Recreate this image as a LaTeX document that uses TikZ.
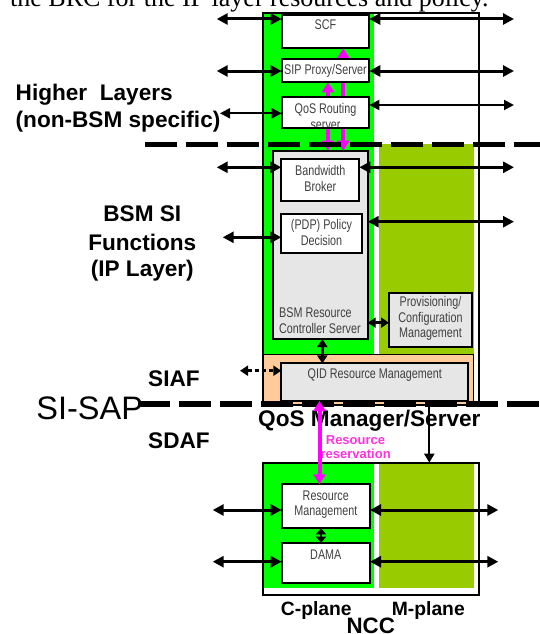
\documentclass[tikz,border=0pt]{standalone}
\usepackage{fontspec}
\setmainfont{Liberation Sans}
\newfontfamily\serifx{Liberation Serif}
\newfontfamily\narrowsans[FakeStretch=0.77]{Liberation Sans}
\usetikzlibrary{arrows.meta}
\definecolor{cgreen}{HTML}{00FF00}
\definecolor{colive}{HTML}{99CC00}
\definecolor{cgray}{HTML}{E6E6E6}
\definecolor{cpeach}{HTML}{FFCC99}
\definecolor{cmag}{HTML}{FF00FF}
\definecolor{cmagtxt}{HTML}{FF33DD}
\definecolor{ctxt}{HTML}{404040}
\tikzset{
  outerframe/.style={draw=black, line width=1.8pt, fill=white, inner sep=0pt, outer sep=0pt, anchor=north west},
  fillarea/.style={inner sep=0pt, outer sep=0pt, anchor=north west},
  wbox/.style={draw=black, line width=2pt, fill=white, inner sep=0pt, outer sep=0pt, anchor=north west},
  gbox/.style={wbox, fill=cgray},
  btxt/.style={font=\narrowsans\fontsize{14}{15.6}\selectfont, text=ctxt, inner sep=0pt, align=center},
  lbl/.style={font=\fontsize{22.6}{27}\selectfont\bfseries, inner sep=0pt, anchor=base west},
  lblc/.style={font=\fontsize{22.6}{27}\selectfont\bfseries, inner sep=0pt, anchor=base},
  bigarr/.style={line width=3pt, {Triangle[length=11pt,width=11pt]}-{Triangle[length=11pt,width=11pt]}},
  thinarr/.style={line width=2pt, {Triangle[length=10pt,width=10pt]}-{Triangle[length=10pt,width=10pt]}},
  smallarr/.style={line width=2.5pt, {Triangle[length=8pt,width=10pt]}-{Triangle[length=8pt,width=10pt]}},
  dasharr/.style={line width=2.5pt, dash pattern=on 4pt off 3pt, {Triangle[length=8pt,width=10pt]}-{Triangle[length=8pt,width=10pt]}},
  downarr/.style={line width=2pt, -{Triangle[length=9pt,width=10pt]}},
  magarr/.style={draw=cmag, line width=4pt, {Triangle[length=10pt,width=12pt]}-{Triangle[length=10pt,width=12pt]}},
  sepline/.style={line width=5.5pt, dash pattern=on 32pt off 9pt},
}
\begin{document}
\begin{tikzpicture}[x=1pt,y=-1pt]
\useasboundingbox (0,0) rectangle (540,634);
% clipped caption line at the top
\node[font=\serifx\fontsize{26}{30}\selectfont, inner sep=0pt, anchor=base west] (caption) at (10,7) {the BRC for the IP layer resources and policy.};

% ---------- upper block ----------
\node[outerframe, minimum width=216pt, minimum height=392.3pt] (ftop) at (263.3,12.7) {};
\node[fillarea, fill=cgreen, minimum width=109.4pt, minimum height=340.8pt] (gtop) at (264.3,13.7) {};
\node[fillarea, fill=colive, minimum width=94.7pt, minimum height=210.5pt] (otop) at (379.3,144) {};
\node[wbox, fill=cpeach, line width=1.8pt, minimum width=210.8pt, minimum height=50.5pt] (peach) at (262.7,354.5) {};

\node[gbox, minimum width=94.4pt, minimum height=188.3pt] (brc) at (273.3,150.7) {};
\node[wbox, minimum width=78pt, minimum height=41.7pt] (bw) at (281.3,159) {};
\node[wbox, minimum width=80.4pt, minimum height=38.4pt] (pdp) at (281.3,214.3) {};
\node[gbox, minimum width=83pt, minimum height=54pt] (prov) at (389,292.7) {};
\node[gbox, minimum width=187pt, minimum height=37.6pt] (qid) at (281.3,363.4) {};

% magenta arrows (behind SIP / QoS boxes)
\coordinate (mx1) at (328,0);
\coordinate (mx2) at (343.3,0);
\node[wbox, minimum width=87.6pt, minimum height=33.6pt] (scf) at (281.7,14.7) {};
\draw[magarr] (scf.south -| mx2) -- (brc.north -| mx2);
\node[wbox, minimum width=87.6pt, minimum height=23.3pt] (sip) at (281.7,59) {};
\draw[magarr] (sip.south -| mx1) -- (brc.north -| mx1);
\node[wbox, minimum width=87.6pt, minimum height=31.6pt] (qos) at (281.7,96.7) {};

% box texts
\node[btxt] (tscf) at (325.5,25) {SCF};
\node[btxt] (tsip) at (325.5,70.7) {SIP Proxy/Server};
\node[btxt] (tqos) at (325.5,116.2) {QoS Routing\\server};
\draw[line width=2pt] (qos.south west) -- (qos.south east);
\node[btxt] (tbw) at (320.3,178.3) {Bandwidth\\Broker};
\node[btxt] (tpdp) at (321.5,232.5) {(PDP) Policy\\Decision};
\node[btxt, align=left, anchor=west] (tbrc) at (279,320.7) {BSM Resource\\Controller Server};
\node[btxt] (tprov) at (430.5,318.5) {Provisioning/\\Configuration\\Management};
\node[btxt] (tqid) at (374.8,375.5) {QID Resource Management};

% black arrows, upper block
\coordinate (scfL) at (216.7,19);
\coordinate (scfR) at (514,19);
\coordinate (sipL) at (216.7,71);
\coordinate (sipR) at (514,71);
\coordinate (qosL) at (220,113.3);
\coordinate (qosR) at (514,105);
\coordinate (bwL) at (216.7,167.3);
\coordinate (bwR) at (514,167.3);
\coordinate (pdpL) at (222.7,237.3);
\coordinate (pdpR) at (514,221.7);
\coordinate (provY) at (0,322.7);
\coordinate (vx1) at (322.3,0);
\coordinate (siafL) at (240,370.7);
\draw[bigarr] (scfL) -- (scfL -| scf.west);
\draw[bigarr] (scfR -| scf.east) -- (scfR);
\draw[bigarr] (sipL) -- (sipL -| sip.west);
\draw[bigarr] (sipR -| sip.east) -- (sipR);
\draw[thinarr] (qosL) -- (qosL -| qos.west);
\draw[thinarr] (qosR -| qos.east) -- (qosR);
\draw[bigarr] (bwL) -- (bwL -| bw.west);
\draw[bigarr] (bwR -| bw.east) -- (bwR);
\draw[bigarr] (pdpL) -- (pdpL -| pdp.west);
\draw[bigarr] (pdpR -| brc.east) -- (pdpR);
\draw[smallarr] (provY -| brc.east) -- (provY -| prov.west);
\draw[smallarr] (brc.south -| vx1) -- (qid.north -| vx1);
\draw[dasharr] (siafL) -- (siafL -| qid.west);

% ---------- lower block ----------
\node[outerframe, line width=2pt, minimum width=216pt, minimum height=132pt] (fbot) at (263.3,462.7) {};
\node[fillarea, fill=cgreen, minimum width=109.7pt, minimum height=124.6pt] (gbot) at (264.3,463.7) {};
\node[fillarea, fill=colive, minimum width=94.7pt, minimum height=124.6pt] (obot) at (379.3,463.7) {};
\node[wbox, minimum width=88.3pt, minimum height=44pt] (rm) at (281.7,484.3) {};
\node[wbox, minimum width=88.3pt, minimum height=40pt] (dama) at (281.7,542.7) {};
\node[btxt] (trm) at (325.8,504.5) {Resource\\Management};
\node[btxt] (tdama) at (325.8,554.3) {DAMA};
\coordinate (rmL) at (212.7,510);
\coordinate (rmR) at (498.3,510);
\coordinate (daL) at (212.7,561.7);
\coordinate (daR) at (498.3,561.7);
\coordinate (vx2) at (321,0);
\draw[bigarr] (rmL) -- (rmL -| rm.west);
\draw[bigarr] (rmR -| rm.east) -- (rmR);
\draw[bigarr] (daL) -- (daL -| dama.west);
\draw[bigarr] (daR -| dama.east) -- (daR);
\draw[line width=2.5pt, {Triangle[length=6pt,width=10pt]}-{Triangle[length=6pt,width=10pt]}] (rm.south -| vx2) -- (dama.north -| vx2);

% ---------- separator lines ----------
\coordinate (d1a) at (145,144.5);
\coordinate (d1b) at (545,144.5);
\coordinate (d2a) at (138,404);
\coordinate (d2b) at (545,404);
\draw[sepline] (d1a) -- (d1b);
\draw[sepline] (d2a) -- (d2b);

% ---------- labels ----------
\node[lbl] (lh1) at (15.5,100) {Higher~~Layers};
\node[lbl] (lh2) at (15.5,127.5) {(non-BSM specific)};
\node[lblc] (lb1) at (142.3,221.7) {BSM SI};
\node[lblc] (lb2) at (142.3,250) {Functions};
\node[lblc] (lb3) at (142.3,276.7) {(IP Layer)};
\node[lbl] (lsiaf) at (148,386.5) {SIAF};
\node[inner sep=0pt, anchor=base west, font=\fontsize{32.5}{36}\selectfont] (lsisap) at (36.2,419) {SI-SAP};
\node[lbl] (lsdaf) at (148,448.5) {SDAF};
\node[lbl] (lqosm) at (258,426) {QoS Manager/Server};
\node[inner sep=0pt, anchor=base, text=cmagtxt, font=\fontsize{13}{14}\selectfont\bfseries] (lres1) at (355.5,444.3) {Resource};
\node[inner sep=0pt, anchor=base, text=cmagtxt, font=\fontsize{13}{14}\selectfont\bfseries] (lres2) at (355.7,458.3) {reservation};
\node[inner sep=0pt, anchor=base, font=\fontsize{19.3}{22}\selectfont\bfseries] (lcp) at (316.3,615) {C-plane};
\node[inner sep=0pt, anchor=base, font=\fontsize{19.3}{22}\selectfont\bfseries] (lmp) at (428.3,615) {M-plane};
\node[inner sep=0pt, anchor=base, font=\fontsize{22.3}{26}\selectfont\bfseries] (lncc) at (370.8,633) {NCC};

% arrows crossing the SI-SAP line
\coordinate (mx3) at (319.5,0);
\coordinate (vx3) at (429.3,0);
\draw[magarr] (qid.south -| mx3) -- (rm.north -| mx3);
\draw[downarr] (peach.south -| vx3) -- (fbot.north -| vx3);
\end{tikzpicture}
\end{document}
